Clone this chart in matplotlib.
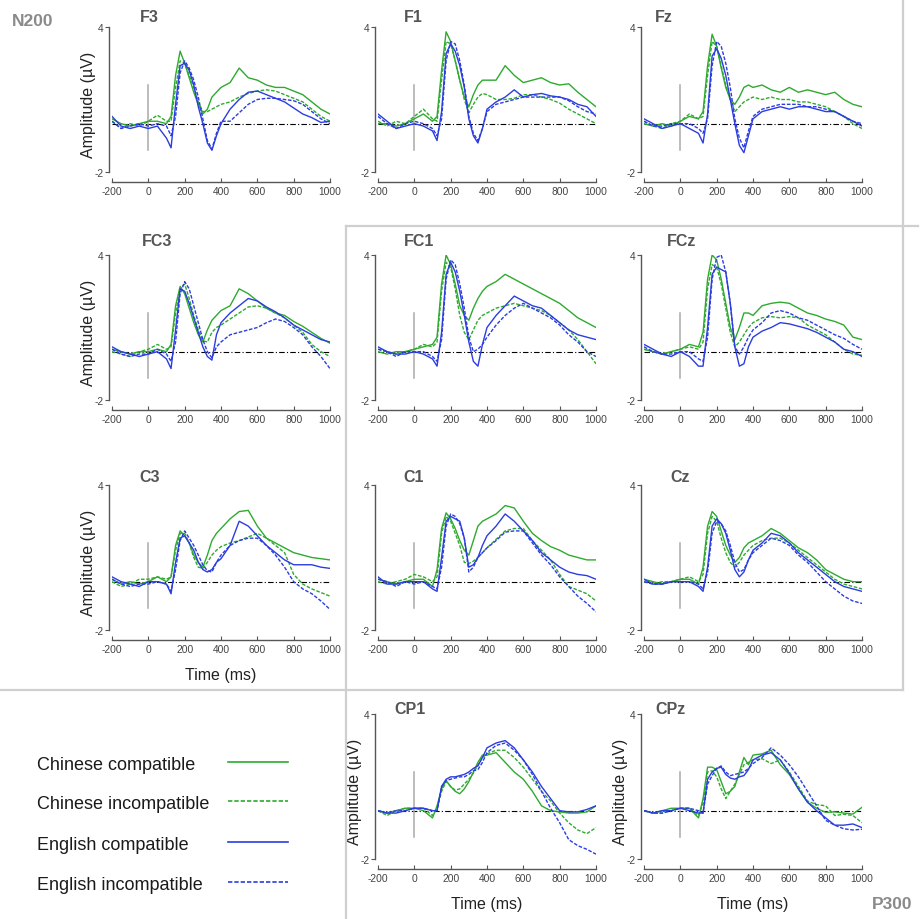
import matplotlib
matplotlib.use("Agg")
import matplotlib.pyplot as plt
from matplotlib.lines import Line2D

plt.rcParams['font.family'] = ['Liberation Sans', 'DejaVu Sans']
plt.rcParams['axes.unicode_minus'] = False

# time points (ms) shared by every waveform
times = [-200, -150, -100, -50, 0, 50, 100, 125, 150, 175, 200, 225, 250, 275, 300, 325,
         350, 375, 400, 450, 500, 550, 600, 650, 700, 750, 800, 850, 900, 950, 1000]

# amplitudes (uV): cc = Chinese compatible, ci = Chinese incompatible,
# ec = English compatible, ei = English incompatible
F3_cc = [0.2, 0.0, -0.1, 0.0, 0.1, 0.1, 0.0, 0.3, 2.0, 3.0, 2.5, 1.9, 1.3, 0.8, 0.4, 0.6, 1.1, 1.3, 1.5, 1.7, 2.3, 1.9, 1.8, 1.6, 1.5, 1.5, 1.35, 1.2, 0.9, 0.6, 0.4]
F3_ci = [0.1, -0.2, 0.0, -0.1, 0.1, 0.35, 0.1, 0.1, 1.5, 2.6, 2.5, 2.0, 1.5, 0.9, 0.5, 0.5, 0.6, 0.7, 0.8, 0.9, 1.1, 1.25, 1.35, 1.4, 1.35, 1.2, 1.05, 0.9, 0.6, 0.3, 0.1]
F3_ec = [0.3, -0.1, -0.2, -0.1, -0.2, -0.1, -0.6, -1.0, 0.8, 2.4, 2.5, 2.2, 1.6, 0.7, 0.0, -0.8, -1.1, -0.5, 0.0, 0.6, 1.0, 1.3, 1.35, 1.2, 1.05, 0.9, 0.65, 0.4, 0.25, 0.05, 0.1]
F3_ei = [0.1, -0.2, -0.1, 0.0, -0.1, 0.0, -0.1, -0.5, 0.3, 2.1, 2.6, 2.3, 1.8, 1.1, 0.2, -0.7, -1.05, -0.4, 0.1, 0.1, 0.45, 0.8, 1.0, 1.05, 1.05, 1.0, 0.95, 0.8, 0.5, 0.2, 0.0]

F1_cc = [0.0, 0.0, -0.1, 0.0, 0.2, 0.4, 0.1, 0.3, 2.2, 3.8, 3.4, 2.6, 1.8, 1.1, 0.7, 1.2, 1.6, 1.8, 1.8, 1.8, 2.4, 2.0, 1.7, 1.8, 1.9, 1.7, 1.6, 1.65, 1.3, 1.0, 0.7]
F1_ci = [0.1, -0.1, 0.1, 0.0, 0.3, 0.6, 0.2, 0.1, 1.8, 3.4, 3.3, 2.6, 1.8, 1.0, 0.45, 0.8, 1.1, 1.25, 1.2, 1.0, 1.0, 1.05, 1.2, 1.2, 1.1, 1.0, 0.85, 0.6, 0.4, 0.2, 0.0]
F1_ec = [0.4, 0.1, -0.2, -0.1, 0.0, -0.1, -0.3, -0.7, 0.5, 2.9, 3.3, 3.0, 2.4, 1.5, 0.2, -0.5, -0.8, -0.2, 0.6, 0.9, 1.1, 1.4, 1.1, 1.2, 1.25, 1.15, 1.1, 1.0, 0.8, 0.7, 0.3]
F1_ei = [0.3, 0.0, -0.2, 0.0, 0.1, 0.0, -0.2, -0.5, 0.2, 2.6, 3.4, 3.3, 2.6, 1.6, 0.3, -0.4, -0.7, -0.2, 0.5, 0.8, 0.9, 1.0, 1.1, 1.1, 1.1, 1.1, 1.1, 0.95, 0.7, 0.5, 0.4]

Fz_cc = [0.0, -0.1, 0.0, -0.1, 0.1, 0.3, 0.2, 0.5, 2.4, 3.7, 3.2, 2.3, 1.5, 1.0, 0.8, 1.1, 1.5, 1.6, 1.5, 1.6, 1.4, 1.3, 1.5, 1.3, 1.4, 1.3, 1.2, 1.3, 1.0, 0.8, 0.7]
Fz_ci = [0.1, -0.1, -0.2, 0.0, 0.1, 0.4, 0.2, 0.3, 2.0, 3.4, 3.2, 2.4, 1.6, 1.0, 0.5, 0.7, 0.9, 1.0, 1.1, 1.0, 1.1, 1.0, 1.0, 0.9, 0.9, 0.8, 0.7, 0.5, 0.3, 0.0, -0.2]
Fz_ec = [0.2, 0.0, -0.2, -0.1, 0.0, -0.2, -0.4, -0.8, 0.4, 2.8, 3.1, 2.7, 2.0, 1.0, 0.0, -0.9, -1.2, -0.5, 0.2, 0.5, 0.6, 0.7, 0.6, 0.7, 0.7, 0.6, 0.5, 0.5, 0.3, 0.1, -0.1]
Fz_ei = [0.1, -0.1, -0.1, 0.0, 0.0, 0.0, -0.2, -0.4, 0.2, 2.4, 3.4, 3.2, 2.5, 1.5, 0.2, -0.6, -1.0, -0.3, 0.3, 0.6, 0.7, 0.8, 0.8, 0.8, 0.7, 0.7, 0.6, 0.5, 0.3, 0.1, 0.0]

FC3_cc = [0.1, 0.0, -0.1, 0.0, 0.0, 0.1, 0.0, 0.3, 1.9, 2.7, 2.4, 1.8, 1.2, 0.7, 0.4, 0.9, 1.3, 1.5, 1.7, 1.9, 2.6, 2.4, 2.1, 1.8, 1.6, 1.5, 1.25, 1.05, 0.8, 0.55, 0.35]
FC3_ci = [0.0, -0.1, -0.2, 0.0, 0.1, 0.3, 0.1, 0.2, 1.6, 2.6, 2.8, 2.2, 1.5, 0.9, 0.45, 0.4, 0.8, 1.0, 1.1, 1.35, 1.6, 1.85, 1.9, 1.8, 1.6, 1.4, 1.1, 0.8, 0.3, 0.0, -0.2]
FC3_ec = [0.2, 0.0, -0.1, -0.2, -0.1, 0.0, -0.3, -0.7, 0.9, 2.6, 2.5, 2.0, 1.4, 0.8, 0.2, -0.2, -0.35, 0.7, 1.2, 1.6, 1.9, 2.2, 2.1, 1.85, 1.65, 1.4, 1.1, 0.9, 0.7, 0.5, 0.4]
FC3_ei = [0.1, -0.1, -0.2, -0.1, -0.1, 0.1, -0.1, -0.4, 0.4, 2.4, 2.9, 2.6, 1.9, 1.2, 0.5, 0.0, -0.25, 0.2, 0.4, 0.7, 0.8, 0.9, 1.0, 1.2, 1.35, 1.25, 1.0, 0.7, 0.2, -0.2, -0.7]

FC1_cc = [0.0, -0.1, 0.0, 0.0, 0.1, 0.2, 0.3, 0.6, 2.8, 4.0, 3.6, 2.8, 1.9, 1.5, 1.3, 1.8, 2.2, 2.5, 2.7, 2.9, 3.2, 3.0, 2.8, 2.6, 2.4, 2.2, 2.0, 1.7, 1.4, 1.2, 1.0]
FC1_ci = [0.1, 0.0, -0.1, 0.0, 0.1, 0.3, 0.2, 0.4, 2.5, 3.7, 3.5, 2.6, 1.5, 0.8, 0.5, 0.9, 1.3, 1.5, 1.6, 1.8, 1.9, 2.0, 1.9, 1.8, 1.7, 1.5, 1.2, 0.9, 0.5, 0.0, -0.5]
FC1_ec = [0.2, 0.0, -0.1, -0.1, 0.0, -0.1, -0.3, -0.6, 0.8, 3.2, 3.7, 3.3, 2.5, 1.5, 0.4, -0.4, -0.6, 0.3, 1.0, 1.5, 1.9, 2.3, 2.1, 1.9, 1.8, 1.5, 1.2, 0.9, 0.7, 0.6, 0.5]
FC1_ei = [0.1, 0.0, -0.2, 0.0, 0.0, 0.0, -0.2, -0.4, 0.5, 3.0, 3.8, 3.6, 2.8, 1.8, 0.6, 0.0, 0.1, 0.3, 0.6, 1.1, 1.5, 1.8, 2.0, 1.8, 1.6, 1.4, 1.1, 0.7, 0.4, 0.0, -0.2]

FCz_cc = [0.1, 0.0, -0.1, 0.0, 0.1, 0.3, 0.2, 0.8, 3.0, 4.0, 3.8, 3.0, 2.0, 1.0, 0.5, 1.0, 1.6, 1.6, 1.5, 1.9, 2.0, 2.05, 2.0, 1.8, 1.6, 1.5, 1.35, 1.25, 1.1, 0.6, 0.5]
FCz_ci = [0.1, 0.0, -0.1, 0.0, 0.1, 0.2, 0.1, 0.4, 2.6, 3.6, 3.5, 2.8, 1.8, 0.8, 0.2, 0.4, 0.7, 1.0, 1.2, 1.4, 1.45, 1.4, 1.45, 1.4, 1.1, 0.9, 0.7, 0.4, 0.1, -0.1, -0.15]
FCz_ec = [0.3, 0.1, -0.1, -0.2, 0.0, -0.2, -0.6, -0.6, 1.0, 3.2, 3.5, 3.4, 3.3, 2.0, 0.2, -0.6, -0.5, 0.2, 0.6, 0.85, 1.0, 1.2, 1.15, 1.05, 0.95, 0.8, 0.6, 0.4, 0.1, 0.0, -0.2]
FCz_ei = [0.2, 0.0, -0.1, -0.1, 0.0, 0.0, -0.3, -0.4, 0.6, 3.0, 3.9, 4.0, 3.3, 2.0, 0.2, -0.1, 0.2, 0.6, 0.9, 1.2, 1.6, 1.7, 1.6, 1.4, 1.3, 1.1, 0.9, 0.7, 0.55, 0.3, 0.1]

C3_cc = [0.1, -0.1, 0.0, -0.1, 0.0, 0.2, 0.0, 0.2, 1.5, 2.1, 1.9, 1.6, 1.1, 0.8, 0.6, 1.1, 1.7, 2.0, 2.2, 2.6, 2.9, 2.95, 2.3, 1.8, 1.6, 1.4, 1.2, 1.1, 1.0, 0.95, 0.9]
C3_ci = [0.0, -0.2, -0.1, 0.1, 0.1, 0.2, 0.1, 0.2, 1.3, 2.0, 2.0, 1.6, 1.0, 0.6, 0.55, 0.8, 1.1, 1.3, 1.45, 1.6, 1.7, 1.85, 2.0, 1.8, 1.5, 1.2, 0.3, -0.1, -0.3, -0.45, -0.6]
C3_ec = [0.2, 0.0, -0.1, -0.2, 0.0, 0.0, -0.1, -0.5, 0.8, 1.8, 1.9, 1.6, 1.3, 0.8, 0.5, 0.4, 0.5, 0.8, 0.95, 1.5, 2.5, 2.3, 1.9, 1.5, 1.2, 0.9, 0.7, 0.7, 0.7, 0.6, 0.55]
C3_ei = [0.1, -0.1, -0.2, -0.1, -0.1, 0.0, -0.1, -0.4, 0.5, 1.7, 2.1, 1.8, 1.5, 1.1, 0.7, 0.45, 0.4, 0.8, 1.1, 1.5, 1.7, 1.8, 1.8, 1.5, 1.1, 0.6, 0.0, -0.3, -0.5, -0.8, -1.15]

C1_cc = [0.1, 0.0, -0.1, 0.0, 0.1, 0.1, -0.2, 0.5, 2.2, 2.85, 2.6, 2.2, 1.7, 1.3, 1.1, 1.7, 2.3, 2.5, 2.6, 2.8, 3.15, 3.05, 2.5, 2.0, 1.7, 1.45, 1.3, 1.1, 1.0, 0.9, 0.9]
C1_ci = [0.0, -0.1, 0.0, 0.1, 0.3, 0.2, 0.0, 0.2, 2.0, 2.7, 2.5, 2.0, 1.5, 0.8, 0.75, 0.85, 1.0, 1.2, 1.4, 1.75, 2.1, 2.2, 2.2, 1.7, 1.3, 0.9, 0.3, -0.2, -0.35, -0.5, -0.8]
C1_ec = [0.2, -0.1, -0.1, 0.0, 0.0, 0.0, -0.3, -0.4, 1.0, 2.5, 2.7, 2.6, 2.5, 1.8, 0.6, 0.7, 1.0, 1.5, 1.9, 2.3, 2.8, 2.5, 2.1, 1.7, 1.2, 0.9, 0.6, 0.4, 0.3, 0.25, 0.1]
C1_ei = [0.1, 0.0, -0.2, 0.0, -0.1, 0.0, -0.2, -0.3, 0.6, 2.3, 2.8, 2.7, 2.4, 1.8, 0.4, 0.6, 1.0, 1.2, 1.4, 1.7, 2.05, 2.1, 2.1, 1.6, 1.1, 0.7, 0.2, -0.2, -0.6, -0.9, -1.25]

Cz_cc = [0.1, 0.0, -0.1, 0.0, 0.1, 0.1, -0.1, 0.6, 2.3, 2.9, 2.7, 2.1, 1.5, 1.1, 0.8, 1.0, 1.4, 1.6, 1.7, 1.9, 2.2, 2.0, 1.7, 1.4, 1.2, 0.9, 0.5, 0.3, 0.1, 0.0, 0.0]
Cz_ci = [0.0, -0.1, 0.0, 0.0, 0.1, 0.2, 0.0, 0.3, 2.0, 2.7, 2.5, 1.8, 1.2, 0.8, 0.6, 0.8, 1.1, 1.3, 1.5, 1.7, 1.8, 1.8, 1.6, 1.3, 1.0, 0.7, 0.4, 0.1, -0.1, -0.2, -0.3]
Cz_ec = [0.1, -0.1, -0.1, 0.0, 0.0, 0.0, -0.2, -0.4, 0.6, 2.3, 2.6, 2.4, 2.0, 1.3, 0.5, 0.2, 0.4, 0.9, 1.3, 1.6, 2.0, 1.9, 1.6, 1.2, 0.9, 0.6, 0.3, 0.0, -0.2, -0.3, -0.4]
Cz_ei = [0.0, -0.1, -0.1, 0.0, 0.0, 0.0, -0.1, -0.3, 0.4, 2.0, 2.5, 2.4, 2.1, 1.5, 0.8, 0.4, 0.5, 0.9, 1.2, 1.5, 1.8, 1.7, 1.5, 1.1, 0.8, 0.4, 0.0, -0.3, -0.6, -0.8, -0.9]

CP1_cc = [0.0, -0.1, 0.0, 0.1, 0.1, 0.0, -0.3, 0.2, 0.9, 1.25, 1.0, 0.8, 0.7, 0.9, 1.2, 1.6, 2.0, 2.3, 2.3, 2.4, 2.0, 1.6, 1.3, 0.8, 0.2, 0.0, -0.05, -0.1, -0.1, -0.05, 0.2]
CP1_ci = [0.0, -0.2, 0.0, 0.1, 0.1, 0.1, -0.2, 0.1, 0.8, 1.2, 1.0, 0.85, 0.9, 1.1, 1.3, 1.55, 1.9, 2.2, 2.35, 2.5, 2.5, 2.2, 1.8, 1.3, 0.8, 0.4, -0.1, -0.5, -0.8, -0.95, -0.7]
CP1_ec = [0.0, -0.1, -0.1, 0.0, 0.1, 0.1, 0.0, 0.0, 1.0, 1.3, 1.4, 1.4, 1.45, 1.5, 1.6, 1.75, 1.85, 2.2, 2.6, 2.8, 2.9, 2.6, 2.1, 1.6, 1.0, 0.5, 0.0, -0.05, -0.05, 0.05, 0.2]
CP1_ei = [0.0, -0.1, 0.0, 0.0, 0.1, 0.1, 0.0, 0.0, 1.0, 1.25, 1.3, 1.35, 1.4, 1.4, 1.5, 1.65, 1.7, 2.0, 2.4, 2.7, 2.8, 2.5, 2.1, 1.5, 0.8, 0.1, -0.5, -1.2, -1.45, -1.6, -1.8]

CPz_cc = [0.0, -0.1, 0.0, 0.1, 0.1, 0.1, -0.3, 0.5, 1.8, 1.8, 1.7, 1.2, 0.7, 0.8, 1.0, 1.6, 2.2, 1.9, 2.3, 2.35, 2.5, 1.9, 1.5, 0.9, 0.35, 0.1, -0.07, -0.05, -0.1, -0.14, 0.14]
CPz_ci = [0.0, -0.1, -0.1, 0.0, 0.1, 0.1, -0.2, 0.3, 1.6, 1.65, 1.4, 0.9, 0.5, 0.8, 1.1, 1.5, 1.9, 2.0, 2.1, 2.15, 1.95, 2.1, 1.6, 1.0, 0.4, 0.25, 0.2, -0.2, -0.15, -0.2, -0.5]
CPz_ec = [0.0, -0.1, 0.0, 0.0, 0.1, 0.0, -0.1, -0.1, 1.3, 1.6, 1.75, 1.8, 1.5, 1.35, 1.3, 1.4, 1.45, 1.7, 2.1, 2.3, 2.4, 2.1, 1.55, 0.9, 0.35, 0.0, -0.3, -0.6, -0.6, -0.55, -0.7]
CPz_ei = [0.0, -0.1, -0.1, 0.0, 0.1, 0.1, 0.0, -0.1, 1.1, 1.45, 1.75, 1.85, 1.6, 1.45, 1.5, 1.55, 1.6, 1.75, 1.95, 2.2, 2.6, 2.3, 1.9, 1.4, 0.8, 0.2, -0.4, -0.6, -0.75, -0.8, -0.77]

x_ticks = [-200, 0, 200, 400, 600, 800, 1000]
y_ticks = [-2, 4]
conditions = ["Chinese compatible", "Chinese incompatible", "English compatible", "English incompatible"]

# electrode name, data, (row, col)
panels = [
    ("F3", [F3_cc, F3_ci, F3_ec, F3_ei], 0, 0),
    ("F1", [F1_cc, F1_ci, F1_ec, F1_ei], 0, 1),
    ("Fz", [Fz_cc, Fz_ci, Fz_ec, Fz_ei], 0, 2),
    ("FC3", [FC3_cc, FC3_ci, FC3_ec, FC3_ei], 1, 0),
    ("FC1", [FC1_cc, FC1_ci, FC1_ec, FC1_ei], 1, 1),
    ("FCz", [FCz_cc, FCz_ci, FCz_ec, FCz_ei], 1, 2),
    ("C3", [C3_cc, C3_ci, C3_ec, C3_ei], 2, 0),
    ("C1", [C1_cc, C1_ci, C1_ec, C1_ei], 2, 1),
    ("Cz", [Cz_cc, Cz_ci, Cz_ec, Cz_ei], 2, 2),
    ("CP1", [CP1_cc, CP1_ci, CP1_ec, CP1_ei], 3, 1),
    ("CPz", [CPz_cc, CPz_ci, CPz_ec, CPz_ei], 3, 2),
]

GREEN = '#2eaa2e'
BLUE = '#2b3de0'
DASH = (0, (2.6, 1.2))
styles = [(GREEN, '-'), (GREEN, DASH), (BLUE, '-'), (BLUE, DASH)]

W, H = 923, 920
col_left = [112, 378, 644]
row_top = [28, 256, 486, 715]
pw, ph = 218, 145
title_dx = {"F3": 28, "F1": 26, "Fz": 11, "FC3": 30, "FC1": 26, "FCz": 23,
            "C3": 27, "C1": 25, "Cz": 26, "CP1": 16, "CPz": 11}
title_y = [17, 241, 478, 709]
ylabel_panels = ["F3", "FC3", "C3", "CP1", "CPz"]
xlabel_panels = ["C3", "CP1", "CPz"]

fig = plt.figure(figsize=(W / 100, H / 100), dpi=100)

for name, series, r, c in panels:
    left, top = col_left[c], row_top[r]
    ax = fig.add_axes([left / W, 1 - (top + ph) / H, pw / W, ph / H])
    ax.set_xlim(-200, 1000)
    ax.set_ylim(-2, 4)
    ax.patch.set_visible(False)

    ax.plot([-200, 1000], [0, 0], color='black', lw=0.8, ls=(0, (5, 2, 1, 2)), zorder=1)
    ax.plot([0, 0], [-1.1, 1.6], color='#aaaaaa', lw=1.1, zorder=1)
    for vals, (col, ls) in zip(series, styles):
        ax.plot(times, vals, color=col, ls=ls, lw=1.0, zorder=2)

    for s in ['top', 'right']:
        ax.spines[s].set_visible(False)
    ax.spines['left'].set_position(('outward', 2))
    ax.spines['left'].set_bounds(-2, 4)
    ax.spines['bottom'].set_position(('outward', 7))
    ax.spines['bottom'].set_bounds(-200, 1000)
    for s in ['left', 'bottom']:
        ax.spines[s].set_color('#555555')
        ax.spines[s].set_linewidth(1.0)

    ax.set_xticks(x_ticks)
    ax.set_yticks(y_ticks)
    ax.set_yticklabels([str(v) for v in y_ticks])
    ax.tick_params(axis='x', direction='in', length=3, width=0.8, colors='#555555',
                   labelsize=7.4, labelcolor='#444444', pad=3)
    ax.tick_params(axis='y', direction='out', length=3, width=0.8, colors='#555555',
                   labelsize=7.4, labelcolor='#444444', pad=1)

    fig.text((left + title_dx[name]) / W, 1 - title_y[r] / H, name, fontsize=11.5,
             fontweight='bold', color='#555555', ha='left', va='center')

    if name in ylabel_panels:
        ax.set_ylabel('Amplitude (µV)', fontsize=11.5, color='#222222')
        ax.yaxis.set_label_coords(-0.072, 0.47)
    if name in xlabel_panels:
        fig.text((left + pw / 2) / W, 1 - (top + ph + 45) / H, 'Time (ms)',
                 fontsize=11.5, color='#222222', ha='center', va='center')

# grey frame lines separating the N200 and P300 groups
frame = [((903, 903), (0, 691)), ((346, 918), (227, 227)),
         ((346, 346), (227, 920)), ((0, 903), (691, 691))]
for xs, ys in frame:
    fig.add_artist(Line2D([x / W for x in xs], [1 - y / H for y in ys],
                          transform=fig.transFigure, color='#cfcfcf', lw=1.6))

fig.text(12 / W, 1 - 22 / H, 'N200', fontsize=12.5, fontweight='bold', color='#8a8a8a',
         ha='left', va='center')
fig.text(912 / W, 1 - 905 / H, 'P300', fontsize=12.5, fontweight='bold', color='#8a8a8a',
         ha='right', va='center')

# legend drawn by hand
legend_y = [766, 805, 846, 886]
for label, (col, ls), y in zip(conditions, styles, legend_y):
    fig.text(37 / W, 1 - y / H, label, fontsize=13, color='#1a1a1a', ha='left', va='center')
    fig.add_artist(Line2D([228 / W, 288 / W], [1 - (y - 3) / H, 1 - (y - 3) / H],
                          transform=fig.transFigure, color=col, ls=ls, lw=1.2))

fig.savefig('out.png', dpi=100)
